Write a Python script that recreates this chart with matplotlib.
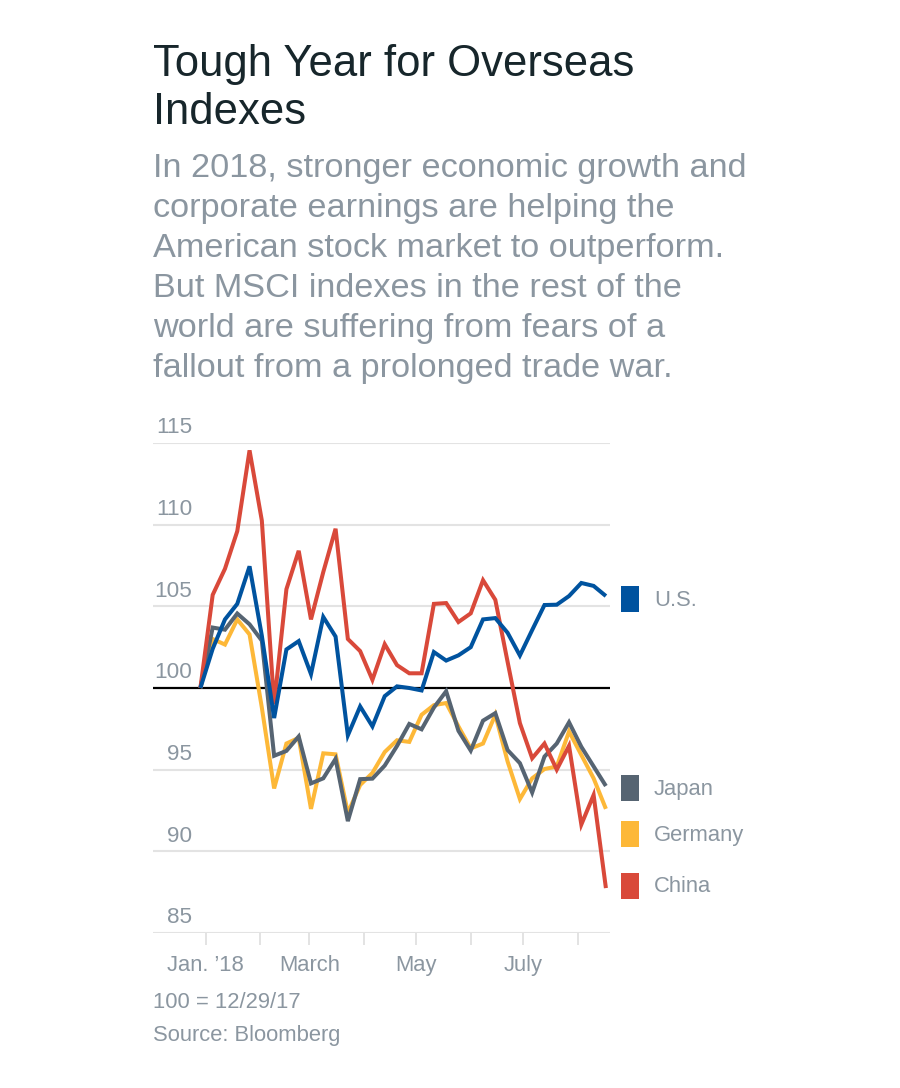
import matplotlib
matplotlib.use("Agg")
import matplotlib.pyplot as plt
import matplotlib.dates as mdates
import matplotlib.transforms as mtransforms
from matplotlib.patches import Rectangle
import pandas as pd

W, H = 900, 1088
TITLE_C = "#17262b"
GREY_TXT = "#8b96a0"
GRID_C = "#e3e3e3"

# weekly index levels, 100 = 12/29/17
dates = pd.date_range("2017-12-29", periods=34, freq="7D")
us = [100, 102.4, 104.2, 105.15, 107.45, 103.2, 98.16, 102.36, 102.87, 100.85,
      104.35, 103.15, 97.1, 98.87, 97.65, 99.5, 100.1, 100.0, 99.85, 102.2,
      101.68, 102.0, 102.5, 104.2, 104.28, 103.38, 101.99, 103.55, 105.08, 105.1,
      105.63, 106.43, 106.25, 105.63]
china = [100, 105.7, 107.3, 109.6, 114.55, 110.25, 99.0, 106.05, 108.4, 104.2,
         107.1, 109.75, 103.0, 102.26, 100.5, 102.68, 101.4, 100.9, 100.9, 105.15,
         105.2, 104.04, 104.57, 106.6, 105.4, 101.6, 97.85, 95.7, 96.6, 95.0,
         96.46, 91.64, 93.45, 87.75]
japan = [100, 103.7, 103.57, 104.56, 103.9, 102.9, 95.85, 96.15, 97.03, 94.16,
         94.47, 95.66, 91.85, 94.42, 94.45, 95.25, 96.45, 97.8, 97.47, 98.8,
         99.8, 97.38, 96.17, 98.0, 98.46, 96.2, 95.4, 93.6, 95.8, 96.6,
         97.9, 96.4, 95.2, 94.0]
germany = [100, 103.0, 102.66, 104.2, 103.28, 98.8, 93.85, 96.6, 96.95, 92.6,
           96.0, 95.94, 92.35, 94.06, 94.8, 96.08, 96.8, 96.7, 98.36, 98.95,
           99.08, 97.65, 96.3, 96.6, 98.36, 95.5, 93.2, 94.47, 95.04, 95.19,
           97.34, 95.9, 94.47, 92.6]

names = ["U.S.", "Japan", "Germany", "China"]
colors = {"U.S.": "#00539f", "Japan": "#566472", "Germany": "#fdb838", "China": "#d9493a"}
yticks = [85, 90, 95, 100, 105, 110, 115]
month_ticks = pd.date_range("2018-01-01", "2018-08-01", freq="MS")
month_labels = ["Jan. \u201918", "", "March", "", "May", "", "July", ""]


def fx(px):
    return px / W


def fy(py):
    return 1 - py / H


plt.rcParams["font.family"] = ["Liberation Sans", "DejaVu Sans"]
fig = plt.figure(figsize=(W / 100, H / 100), dpi=100, facecolor="white")

# title + dek
fig.text(fx(153), fy(76), "Tough Year for Overseas", color=TITLE_C, fontsize=31.4, va="baseline")
fig.text(fx(153), fy(124), "Indexes", color=TITLE_C, fontsize=31.4, va="baseline")
dek = ["In 2018, stronger economic growth and",
       "corporate earnings are helping the",
       "American stock market to outperform.",
       "But MSCI indexes in the rest of the",
       "world are suffering from fears of a",
       "fallout from a prolonged trade war."]
for i, ln in enumerate(dek):
    fig.text(fx(153), fy(177 + 40 * i), ln, color=GREY_TXT, fontsize=24.7, va="baseline")

ax = fig.add_axes([fx(153), fy(933), fx(610) - fx(153), fy(443) - fy(933)])
ax.set_xlim(pd.Timestamp("2017-12-02"), pd.Timestamp("2018-08-19 08:00"))
ax.set_ylim(85, 115)
for s in ax.spines.values():
    s.set_visible(False)

for v in yticks:
    if v == 100:
        ax.axhline(v, color="black", lw=1.6, zorder=1)
    else:
        ax.axhline(v, color=GRID_C, lw=1.5, zorder=0)
ax.set_yticks([])

# y labels, right-aligned just above each gridline
tr = mtransforms.blended_transform_factory(fig.transFigure, ax.transData)
for v in yticks:
    ax.text(fx(192), v + 0.6, str(v), transform=tr, ha="right", va="baseline",
            color=GREY_TXT, fontsize=16.2, clip_on=False)

ax.set_xticks(month_ticks)
ax.set_xticklabels(month_labels)
ax.tick_params(axis="x", length=8.5, width=1.4, color=GRID_C, labelcolor=GREY_TXT,
               labelsize=15.8, pad=7)

series = {"U.S.": us, "Japan": japan, "Germany": germany, "China": china}
for nm in ["Germany", "Japan", "China", "U.S."]:
    ax.plot(dates, series[nm], color=colors[nm], lw=2.9, solid_joinstyle="miter",
            solid_capstyle="butt", zorder=3)

# legend chips at the line ends
chip_y = {"U.S.": 599, "Japan": 788, "Germany": 834, "China": 886}
for nm in names:
    cy = chip_y[nm]
    fig.patches.append(Rectangle((fx(621), fy(cy + 13)), fx(18), 26 / H,
                                 transform=fig.transFigure, facecolor=colors[nm],
                                 edgecolor="none"))
    fig.text(fx(654), fy(cy + 1), nm, color=GREY_TXT, fontsize=15.8, va="center")

fig.text(fx(153), fy(1003), "100 = 12/29/17", color=GREY_TXT, fontsize=15.8, va="center")
fig.text(fx(153), fy(1036), "Source: Bloomberg", color=GREY_TXT, fontsize=15.8, va="center")

fig.savefig("out.png", dpi=100, facecolor="white")
